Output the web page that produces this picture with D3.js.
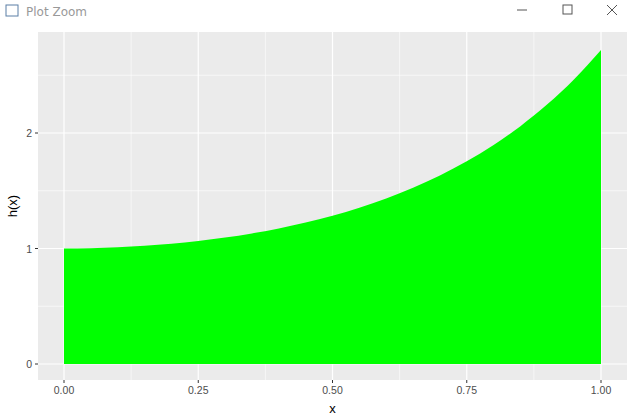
<!DOCTYPE html>
<html><head><meta charset="utf-8">
<script src="https://cdn.jsdelivr.net/npm/d3@7"></script>
<style>body{margin:0;background:#fff}</style></head>
<body><svg id="c" width="635" height="417"></svg>
<script>
const xs = [0,0.05,0.1,0.15,0.2,0.25,0.3,0.35,0.4,0.45,0.5,0.55,0.6,0.65,0.7,0.75,0.8,0.85,0.9,0.95,1];
const hs = [1,1.0025,1.0101,1.0228,1.0408,1.0645,1.0942,1.1303,1.1735,1.2244,1.284,1.3532,1.4333,1.5257,1.6323,1.7551,1.8965,2.0594,2.2479,2.4653,2.7183];
const xTicks = [0,0.25,0.5,0.75,1];
const xTickLabels = ["0.00","0.25","0.50","0.75","1.00"];
const xMinor = [0.125,0.375,0.625,0.875];
const yTicks = [0,1,2];
const yMinor = [0.5,1.5,2.5];

const svg = d3.select("#c");
// window title bar
svg.append("text").attr("x",26).attr("y",16).attr("font-family","Segoe UI, DejaVu Sans, sans-serif").attr("font-size",12).attr("fill","#999").text("Plot Zoom");
svg.append("rect").attr("x",6).attr("y",5).attr("width",12).attr("height",11).attr("fill","none").attr("stroke","#5b7fa6");
svg.append("line").attr("x1",517).attr("x2",527).attr("y1",10).attr("y2",10).attr("stroke","#555");
svg.append("rect").attr("x",563).attr("y",5).attr("width",9).attr("height",9).attr("fill","none").attr("stroke","#555");
svg.append("path").attr("d","M607,5L617,15M617,5L607,15").attr("stroke","#555");

const L=38,R=627,T=32,B=380;
const x = d3.scaleLinear().domain([0,1]).range([64,601]);
const y = d3.scaleLinear().domain([0,1]).range([364,248.5]);
svg.append("rect").attr("x",L).attr("y",T).attr("width",R-L).attr("height",B-T).attr("fill","#EBEBEB");
const g = svg.append("g");
xMinor.forEach(v=>g.append("line").attr("x1",x(v)).attr("x2",x(v)).attr("y1",T).attr("y2",B).attr("stroke","#fff").attr("stroke-width",0.6));
yMinor.forEach(v=>g.append("line").attr("y1",y(v)).attr("y2",y(v)).attr("x1",L).attr("x2",R).attr("stroke","#fff").attr("stroke-width",0.6));
xTicks.forEach(v=>g.append("line").attr("x1",x(v)).attr("x2",x(v)).attr("y1",T).attr("y2",B).attr("stroke","#fff").attr("stroke-width",1.2));
yTicks.forEach(v=>g.append("line").attr("y1",y(v)).attr("y2",y(v)).attr("x1",L).attr("x2",R).attr("stroke","#fff").attr("stroke-width",1.2));

const area = d3.area().x((d,i)=>x(xs[i])).y0(y(0)).y1(d=>y(d)).curve(d3.curveMonotoneX);
svg.append("path").datum(hs).attr("d",area).attr("fill","#00FF00");

const f="Arial, Liberation Sans, sans-serif";
xTicks.forEach((v,i)=>{
  svg.append("line").attr("x1",x(v)).attr("x2",x(v)).attr("y1",B).attr("y2",B+3).attr("stroke","#333");
  svg.append("text").attr("x",x(v)).attr("y",B+14).attr("text-anchor","middle").attr("font-family",f).attr("font-size",10.5).attr("fill","#4D4D4D").text(xTickLabels[i]);
});
yTicks.forEach(v=>{
  svg.append("line").attr("x1",L-3).attr("x2",L).attr("y1",y(v)).attr("y2",y(v)).attr("stroke","#333");
  svg.append("text").attr("x",L-6).attr("y",y(v)+4).attr("text-anchor","end").attr("font-family",f).attr("font-size",10.5).attr("fill","#4D4D4D").text(v);
});
svg.append("text").attr("x",(L+R)/2).attr("y",413).attr("text-anchor","middle").attr("font-family",f).attr("font-size",13).text("x");
svg.append("text").attr("transform",`translate(17,${(T+B)/2}) rotate(-90)`).attr("text-anchor","middle").attr("font-family",f).attr("font-size",13).text("h(x)");
</script></body></html>
